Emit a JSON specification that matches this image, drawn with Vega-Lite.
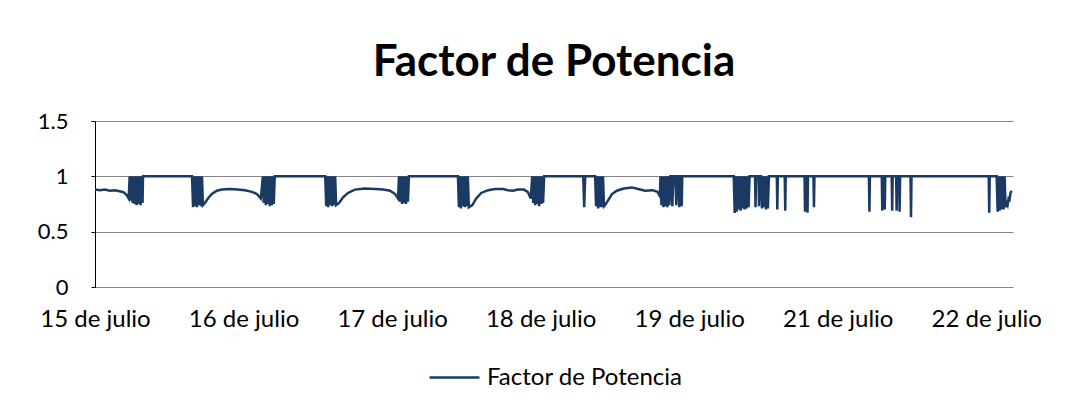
{
  "$schema": "https://vega.github.io/schema/vega-lite/v6.json",
  "width": 918,
  "height": 166,
  "autosize": {"type": "none"},
  "padding": {"left": 95, "top": 121, "right": 73, "bottom": 126},
  "background": "white",
  "title": {
    "text": "Factor de Potencia",
    "font": "Lato",
    "fontSize": 44,
    "fontWeight": "bold",
    "color": "#000000",
    "anchor": "middle",
    "offset": 25
  },
  "config": {
    "view": {"stroke": null},
    "font": "Lato"
  },
  "data": {
    "values": [
      {"n": 0, "fp": 0.88}, {"n": 5, "fp": 0.875}, {"n": 10, "fp": 0.88}, {"n": 15, "fp": 0.87}, {"n": 20, "fp": 0.875}, {"n": 25, "fp": 0.865}, {"n": 29, "fp": 0.855}, {"n": 32, "fp": 0.83}, {"n": 34, "fp": 0.8},
      {"n": 35, "fp": 1}, {"n": 36, "fp": 0.78}, {"n": 37, "fp": 1}, {"n": 38, "fp": 0.76}, {"n": 39, "fp": 1}, {"n": 40, "fp": 0.75}, {"n": 41, "fp": 1}, {"n": 42, "fp": 0.74}, {"n": 43, "fp": 1}, {"n": 44, "fp": 0.75}, {"n": 45, "fp": 1}, {"n": 46, "fp": 0.74}, {"n": 47, "fp": 1}, {"n": 48, "fp": 0.76}, {"n": 48.5, "fp": 1},
      {"n": 98, "fp": 1}, {"n": 99, "fp": 0.72}, {"n": 100, "fp": 1}, {"n": 101, "fp": 0.73}, {"n": 102, "fp": 1}, {"n": 103, "fp": 0.72}, {"n": 104, "fp": 1}, {"n": 105, "fp": 0.74}, {"n": 106, "fp": 1}, {"n": 107, "fp": 0.73}, {"n": 108, "fp": 1}, {"n": 109, "fp": 0.74},
      {"n": 111, "fp": 0.76}, {"n": 114, "fp": 0.8}, {"n": 118, "fp": 0.84}, {"n": 123, "fp": 0.87}, {"n": 128, "fp": 0.88}, {"n": 136, "fp": 0.885}, {"n": 144, "fp": 0.88}, {"n": 151.5, "fp": 0.875}, {"n": 158.5, "fp": 0.86}, {"n": 163.5, "fp": 0.84}, {"n": 167.5, "fp": 0.8},
      {"n": 169.5, "fp": 1}, {"n": 170.5, "fp": 0.76}, {"n": 171.5, "fp": 1}, {"n": 172.5, "fp": 0.74}, {"n": 173.5, "fp": 1}, {"n": 174.5, "fp": 0.75}, {"n": 175.5, "fp": 1}, {"n": 176.5, "fp": 0.73}, {"n": 177.5, "fp": 1}, {"n": 178.5, "fp": 0.74}, {"n": 179.5, "fp": 1}, {"n": 180.5, "fp": 0.75}, {"n": 181.5, "fp": 1},
      {"n": 232.5, "fp": 1}, {"n": 233.5, "fp": 0.73}, {"n": 234.5, "fp": 1}, {"n": 235.5, "fp": 0.72}, {"n": 236.5, "fp": 1}, {"n": 237.5, "fp": 0.74}, {"n": 238.5, "fp": 1}, {"n": 239.5, "fp": 0.73}, {"n": 240.5, "fp": 1}, {"n": 241.5, "fp": 0.74}, {"n": 242.5, "fp": 1}, {"n": 243.5, "fp": 0.74},
      {"n": 246.5, "fp": 0.76}, {"n": 250.5, "fp": 0.81}, {"n": 255.5, "fp": 0.85}, {"n": 262.5, "fp": 0.88}, {"n": 272.5, "fp": 0.89}, {"n": 283, "fp": 0.885}, {"n": 291, "fp": 0.88}, {"n": 298, "fp": 0.87}, {"n": 303, "fp": 0.84}, {"n": 306, "fp": 0.8},
      {"n": 307, "fp": 1}, {"n": 308, "fp": 0.77}, {"n": 309, "fp": 1}, {"n": 310, "fp": 0.75}, {"n": 311, "fp": 1}, {"n": 312, "fp": 0.76}, {"n": 313, "fp": 1}, {"n": 314, "fp": 0.75}, {"n": 315, "fp": 1}, {"n": 316, "fp": 0.77}, {"n": 317, "fp": 1},
      {"n": 366.5, "fp": 1}, {"n": 367.5, "fp": 0.72}, {"n": 368.5, "fp": 1}, {"n": 369.5, "fp": 0.71}, {"n": 370.5, "fp": 1}, {"n": 371.5, "fp": 0.73}, {"n": 372.5, "fp": 1}, {"n": 373.5, "fp": 0.72}, {"n": 374.5, "fp": 1}, {"n": 375.5, "fp": 0.73}, {"n": 376.5, "fp": 1}, {"n": 377.5, "fp": 0.72},
      {"n": 381, "fp": 0.74}, {"n": 385, "fp": 0.8}, {"n": 390, "fp": 0.85}, {"n": 397, "fp": 0.875}, {"n": 404, "fp": 0.885}, {"n": 412, "fp": 0.885}, {"n": 417, "fp": 0.875}, {"n": 422, "fp": 0.87}, {"n": 427, "fp": 0.88}, {"n": 433, "fp": 0.88}, {"n": 437, "fp": 0.86}, {"n": 440, "fp": 0.8},
      {"n": 441.5, "fp": 1}, {"n": 442.5, "fp": 0.76}, {"n": 443.5, "fp": 1}, {"n": 444.5, "fp": 0.74}, {"n": 445.5, "fp": 1}, {"n": 446.5, "fp": 0.75}, {"n": 447.5, "fp": 1}, {"n": 448.5, "fp": 0.73}, {"n": 449.5, "fp": 1}, {"n": 450.5, "fp": 0.75}, {"n": 451.5, "fp": 1}, {"n": 452.5, "fp": 0.76}, {"n": 453.5, "fp": 1},
      {"n": 493, "fp": 1}, {"n": 494, "fp": 0.72}, {"n": 495, "fp": 1},
      {"n": 505, "fp": 1}, {"n": 506, "fp": 0.73}, {"n": 507, "fp": 1}, {"n": 508, "fp": 0.71}, {"n": 509, "fp": 1}, {"n": 510, "fp": 0.72}, {"n": 511, "fp": 1}, {"n": 512, "fp": 0.72}, {"n": 513, "fp": 1}, {"n": 514, "fp": 0.73}, {"n": 515, "fp": 0.74},
      {"n": 518, "fp": 0.78}, {"n": 522, "fp": 0.84}, {"n": 527, "fp": 0.87}, {"n": 534, "fp": 0.89}, {"n": 542, "fp": 0.9}, {"n": 548.5, "fp": 0.885}, {"n": 555.5, "fp": 0.87}, {"n": 563, "fp": 0.875}, {"n": 568, "fp": 0.86}, {"n": 570.5, "fp": 0.82},
      {"n": 571, "fp": 1}, {"n": 572, "fp": 0.74}, {"n": 573, "fp": 1}, {"n": 574, "fp": 0.72}, {"n": 575, "fp": 1}, {"n": 576, "fp": 0.73}, {"n": 577, "fp": 1}, {"n": 578, "fp": 0.72}, {"n": 579, "fp": 1}, {"n": 580, "fp": 0.74}, {"n": 581, "fp": 1}, {"n": 582, "fp": 1}, {"n": 583, "fp": 0.73}, {"n": 584, "fp": 1}, {"n": 586, "fp": 1}, {"n": 587, "fp": 0.74}, {"n": 588, "fp": 1}, {"n": 589.5, "fp": 1}, {"n": 590, "fp": 0.72}, {"n": 590.5, "fp": 1}, {"n": 592, "fp": 1}, {"n": 592.5, "fp": 0.73}, {"n": 593, "fp": 1},
      {"n": 645, "fp": 1}, {"n": 646, "fp": 0.67}, {"n": 647, "fp": 1}, {"n": 648, "fp": 0.68}, {"n": 649, "fp": 1}, {"n": 650, "fp": 0.7}, {"n": 651, "fp": 1}, {"n": 652, "fp": 0.69}, {"n": 653, "fp": 1}, {"n": 654, "fp": 0.71}, {"n": 655, "fp": 1}, {"n": 656, "fp": 0.7}, {"n": 657, "fp": 1}, {"n": 658, "fp": 0.71}, {"n": 659, "fp": 1}, {"n": 660, "fp": 0.72}, {"n": 661, "fp": 1},
      {"n": 666.5, "fp": 1}, {"n": 667, "fp": 0.72}, {"n": 667.5, "fp": 1}, {"n": 670, "fp": 1}, {"n": 670.5, "fp": 0.73}, {"n": 671, "fp": 1},
      {"n": 672.5, "fp": 1}, {"n": 673.5, "fp": 0.71}, {"n": 674.5, "fp": 1}, {"n": 675.5, "fp": 0.72}, {"n": 676.5, "fp": 1}, {"n": 677.5, "fp": 0.7}, {"n": 678.5, "fp": 1}, {"n": 679.5, "fp": 0.71}, {"n": 680.5, "fp": 1},
      {"n": 688.5, "fp": 1}, {"n": 689, "fp": 0.7}, {"n": 689.5, "fp": 1},
      {"n": 696.5, "fp": 1}, {"n": 697, "fp": 0.69}, {"n": 697.5, "fp": 1},
      {"n": 716.5, "fp": 1}, {"n": 717, "fp": 0.68}, {"n": 717.5, "fp": 1}, {"n": 719, "fp": 1}, {"n": 719.5, "fp": 0.67}, {"n": 720, "fp": 1},
      {"n": 725.5, "fp": 1}, {"n": 726, "fp": 0.72}, {"n": 726.5, "fp": 1},
      {"n": 781.5, "fp": 1}, {"n": 782, "fp": 0.68}, {"n": 782.5, "fp": 1},
      {"n": 794.5, "fp": 1}, {"n": 795, "fp": 0.69}, {"n": 795.5, "fp": 1}, {"n": 797, "fp": 1}, {"n": 797.5, "fp": 0.7}, {"n": 798, "fp": 1},
      {"n": 804.5, "fp": 1}, {"n": 805, "fp": 0.69}, {"n": 805.5, "fp": 1},
      {"n": 809, "fp": 1}, {"n": 809.5, "fp": 0.69}, {"n": 810, "fp": 1}, {"n": 812, "fp": 1}, {"n": 812.5, "fp": 0.68}, {"n": 813, "fp": 1},
      {"n": 823.5, "fp": 1}, {"n": 824, "fp": 0.63}, {"n": 824.5, "fp": 1},
      {"n": 902.5, "fp": 1}, {"n": 903, "fp": 0.67}, {"n": 903.5, "fp": 1},
      {"n": 910.5, "fp": 1}, {"n": 911.5, "fp": 0.68}, {"n": 912.5, "fp": 1}, {"n": 913.5, "fp": 0.69}, {"n": 914.5, "fp": 1}, {"n": 915.5, "fp": 0.7}, {"n": 916.5, "fp": 1}, {"n": 917.5, "fp": 0.7}, {"n": 918.5, "fp": 1}, {"n": 919.5, "fp": 0.72}, {"n": 920.5, "fp": 0.76}, {"n": 921.5, "fp": 0.74}, {"n": 922.5, "fp": 0.8}, {"n": 923.5, "fp": 0.79}, {"n": 924.5, "fp": 0.85}, {"n": 925.5, "fp": 0.87}
    ]
  },
  "mark": {"type": "line", "strokeWidth": 2.5, "interpolate": "linear"},
  "encoding": {
    "x": {
      "field": "n",
      "type": "quantitative",
      "scale": {"domain": [0, 927], "nice": false, "zero": false},
      "axis": {
        "title": null,
        "values": [0, 150, 300, 450, 600, 750, 900],
        "labelExpr": "['15 de julio','16 de julio','17 de julio','18 de julio','19 de julio','21 de julio','22 de julio'][round(datum.value/150)]",
        "grid": false,
        "ticks": false,
        "domainColor": "#868686",
        "domainWidth": 1,
        "labelFont": "Lato",
        "labelFontSize": 24,
        "labelColor": "#000000",
        "labelPadding": 20,
        "labelFlush": false,
        "labelOverlap": false
      }
    },
    "y": {
      "field": "fp",
      "type": "quantitative",
      "scale": {"domain": [0, 1.5], "nice": false},
      "axis": {
        "title": null,
        "values": [0, 0.5, 1, 1.5],
        "format": "~g",
        "grid": true,
        "gridColor": "#868686",
        "gridWidth": 1,
        "domainColor": "#000000",
        "domainWidth": 1,
        "tickColor": "#000000",
        "tickSize": 4,
        "labelFont": "Lato",
        "labelFontSize": 22,
        "labelColor": "#000000",
        "labelPadding": 23
      }
    },
    "color": {
      "datum": "Factor de Potencia",
      "type": "nominal",
      "scale": {"range": ["#1B3A63"]},
      "legend": {
        "title": null,
        "orient": "none",
        "legendX": 333,
        "legendY": 230,
        "symbolType": "stroke",
        "symbolSize": 2500,
        "symbolStrokeWidth": 2.5,
        "labelFont": "Lato",
        "labelFontSize": 24,
        "labelColor": "#000000",
        "labelOffset": 6,
        "labelLimit": 0,
        "padding": 0
      }
    }
  }
}
